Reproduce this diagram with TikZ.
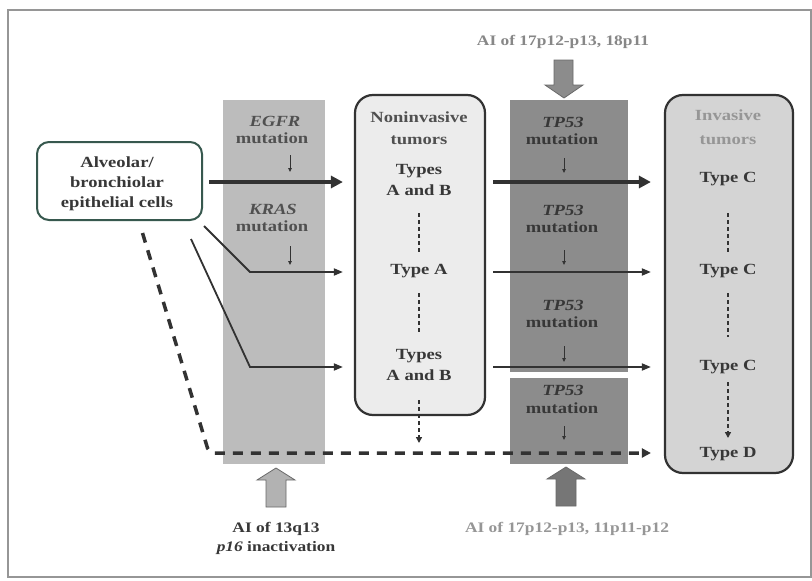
\documentclass[tikz,border=0pt]{standalone}
\usepackage{fontspec}
\setmainfont{Liberation Serif}[FakeStretch=1.2]
\usetikzlibrary{arrows.meta}
\definecolor{framec}{RGB}{150,150,150}
\definecolor{lightb}{RGB}{188,188,188}
\definecolor{darkb}{RGB}{140,140,140}
\definecolor{nonfill}{RGB}{236,236,236}
\definecolor{invfill}{RGB}{212,212,212}
\definecolor{boxline}{RGB}{50,50,50}
\definecolor{leftc}{RGB}{55,88,78}
\definecolor{txtd}{RGB}{55,55,55}
\definecolor{txtm}{RGB}{80,80,80}
\definecolor{txtl}{RGB}{150,150,150}
\definecolor{txtt}{RGB}{135,135,135}
\definecolor{arrc}{RGB}{50,50,50}
\definecolor{blkA}{RGB}{140,140,140}
\definecolor{blkB}{RGB}{178,178,178}
\definecolor{blkC}{RGB}{118,118,118}
\definecolor{blkline}{RGB}{105,105,105}
\begin{document}
\begin{tikzpicture}[x=1pt,y=-1pt,
  lbl/.style={font=\fontsize{15.5}{18}\selectfont\bfseries, inner sep=0pt, anchor=mid, text=txtd},
  ilbl/.style={font=\fontsize{15.5}{18}\selectfont\bfseries\itshape, inner sep=0pt, anchor=mid, text=txtd},
  slbl/.style={font=\fontsize{14.5}{18}\selectfont\bfseries, inner sep=0pt, anchor=mid, text=txtd},
  band/.style={rectangle, draw=none, inner sep=0pt},
  tumbox/.style={rectangle, rounded corners=18pt, draw=boxline, line width=2.2pt, inner sep=0pt},
  thickarr/.style={draw=arrc, line width=4pt, -{Triangle[length=12pt,width=12pt]}},
  thinarr/.style={draw=arrc, line width=1.8pt, -{Triangle[length=9pt,width=7pt]}},
  smallarr/.style={draw=arrc, line width=0.8pt, -{Triangle[length=4pt,width=3.5pt]}},
  dotarr/.style={draw=arrc, line width=1.8pt, dash pattern=on 4pt off 3pt},
  bigdash/.style={draw=arrc, line width=3.5pt, dash pattern=on 10pt off 8pt, rounded corners=5pt, -{Triangle[length=9pt,width=9pt]}},
  blk/.style={line width=0.8pt, draw=blkline}
]
\useasboundingbox (0,0) rectangle (812,581);
\fill[white] (0,0) rectangle (812,581);
\draw[framec, line width=1.5pt] (8,10) rectangle (811,577);

% bands
\node[band, fill=lightb, minimum width=102pt, minimum height=364pt] (egfrband) at (274,282) {};
\node[band, fill=darkb, minimum width=118pt, minimum height=272pt] (tpband) at (569,236) {};
\node[band, fill=darkb, minimum width=118pt, minimum height=86pt] (tpbandb) at (569,421) {};

% boxes
\node[tumbox, fill=nonfill, minimum width=130pt, minimum height=320pt] (non) at (420,255) {};
\node[tumbox, fill=invfill, minimum width=128pt, minimum height=378pt] (inv) at (729,284) {};
\node[rectangle, rounded corners=12pt, draw=leftc, line width=2pt, fill=white, minimum width=165pt, minimum height=78pt, inner sep=0pt] (left) at (119.5,181) {};

% left box text
\node[lbl] (l1) at (117,165) {Alveolar/};
\node[lbl] (l2) at (117,185) {bronchiolar};
\node[lbl] (l3) at (117,205) {epithelial cells};

% EGFR / KRAS
\node[ilbl, text=txtm] (egfr) at (275,124) {EGFR};
\node[lbl, text=txtm] (mutE1) at (272,141) {mutation};
\node[ilbl, text=txtm] (kras) at (273,212) {KRAS};
\node[lbl, text=txtm] (mutE2) at (272,229) {mutation};

% TP53
\node[ilbl] (tp1) at (563,125) {TP53};
\node[lbl] (mutT1) at (562,142) {mutation};
\node[ilbl] (tp2) at (563,213) {TP53};
\node[lbl] (mutT2) at (562,230) {mutation};
\node[ilbl] (tp3) at (563,308) {TP53};
\node[lbl] (mutT3) at (562,325) {mutation};
\node[ilbl] (tp4) at (563,393) {TP53};
\node[lbl] (mutT4) at (562,411) {mutation};

% noninvasive
\node[lbl, text=txtm] (n1) at (419,120) {Noninvasive};
\node[lbl, text=txtm] (n2) at (419,142) {tumors};
\node[lbl] (nT1) at (419,172) {Types};
\node[lbl] (nAB1) at (419,193) {A and B};
\node[lbl] (nA) at (419,272) {Type A};
\node[lbl] (nT2) at (419,357) {Types};
\node[lbl] (nAB2) at (419,378) {A and B};
\coordinate (nend) at (419,443);

% invasive
\node[lbl, text=txtl] (i1) at (728,118) {Invasive};
\node[lbl, text=txtl] (i2) at (728,142) {tumors};
\node[lbl] (c1) at (728,180) {Type C};
\node[lbl] (c2) at (728,272) {Type C};
\node[lbl] (c3) at (728,368) {Type C};
\node[lbl] (d1) at (728,455) {Type D};

% outside labels
\node[slbl, text=txtt] (top) at (563,43) {AI of 17p12-p13, 18p11};
\node[slbl] (bl1) at (276,530) {AI of 13q13};
\node[slbl] (bl2) at (276,549) {\textit{p16} inactivation};
\node[slbl, text=txtl] (br) at (567,530) {AI of 17p12-p13, 11p11-p12};

% block arrows
\filldraw[blk, fill=blkA] (554,60) -- (573,60) -- (573,85) -- (583,85) -- (564,98) -- (545,85) -- (554,85) -- cycle;
\filldraw[blk, fill=blkB] (266,507) -- (286,507) -- (286,480) -- (295,480) -- (276,468) -- (257,480) -- (266,480) -- cycle;
\filldraw[blk, fill=blkC] (556,506) -- (576,506) -- (576,479) -- (585,479) -- (566,467) -- (547,479) -- (556,479) -- cycle;

% rows
\coordinate (r1) at (0,182);
\coordinate (r2) at (0,272);
\coordinate (r3) at (0,367);
\coordinate (r4) at (0,453);
\coordinate (b2) at (250,272);
\coordinate (b3) at (250,367);
\coordinate (bc) at (209,453);

% left arrows
\draw[thickarr, shorten <=6pt, shorten >=11pt] (left.east |- r1) -- (non.west |- r1);
\draw[thinarr, shorten >=11pt] ([shift={(1,5)}]left.south east) -- (b2) -- (non.west |- r2);
\draw[thinarr, shorten >=11pt] ([shift={(-12,18)}]left.south east) -- (b3) -- (non.west |- r3);
\draw[bigdash, shorten >=13pt] ([shift={(23,12)}]left.south) -- (bc) -- (inv.west |- r4);

% right arrows
\draw[thickarr, shorten <=7pt, shorten >=13pt] (non.east |- r1) -- (inv.west |- r1);
\draw[thinarr, shorten <=7pt, shorten >=13pt] (non.east |- r2) -- (inv.west |- r2);
\draw[thinarr, shorten <=7pt, shorten >=13pt] (non.east |- r3) -- (inv.west |- r3);

% small mutation arrows
\draw[smallarr] ([shift={(18,14)}]mutE1.mid) -- ([shift={(18,31)}]mutE1.mid);
\draw[smallarr] ([shift={(18,17)}]mutE2.mid) -- ([shift={(18,36)}]mutE2.mid);
\draw[smallarr] ([shift={(2,16)}]mutT1.mid) -- ([shift={(2,31)}]mutT1.mid);
\draw[smallarr] ([shift={(2,20)}]mutT2.mid) -- ([shift={(2,35)}]mutT2.mid);
\draw[smallarr] ([shift={(2,21)}]mutT3.mid) -- ([shift={(2,37)}]mutT3.mid);
\draw[smallarr] ([shift={(2,15)}]mutT4.mid) -- ([shift={(2,29)}]mutT4.mid);

% dashed progressions
\draw[dotarr, shorten <=20pt, shorten >=19pt] (nAB1.mid) -- (nA.mid);
\draw[dotarr, shorten <=21pt, shorten >=24pt] (nA.mid) -- (nT2.mid);
\draw[dotarr, shorten <=22pt, -{Triangle[length=6pt,width=6pt]}] (nAB2.mid) -- (nend);
\draw[dotarr, shorten <=33pt, shorten >=19pt] (c1.mid) -- (c2.mid);
\draw[dotarr, shorten <=21pt, shorten >=31pt] (c2.mid) -- (c3.mid);
\draw[dotarr, shorten <=14pt, shorten >=17pt, -{Triangle[length=6pt,width=6pt]}] (c3.mid) -- (d1.mid);
\end{tikzpicture}
\end{document}
